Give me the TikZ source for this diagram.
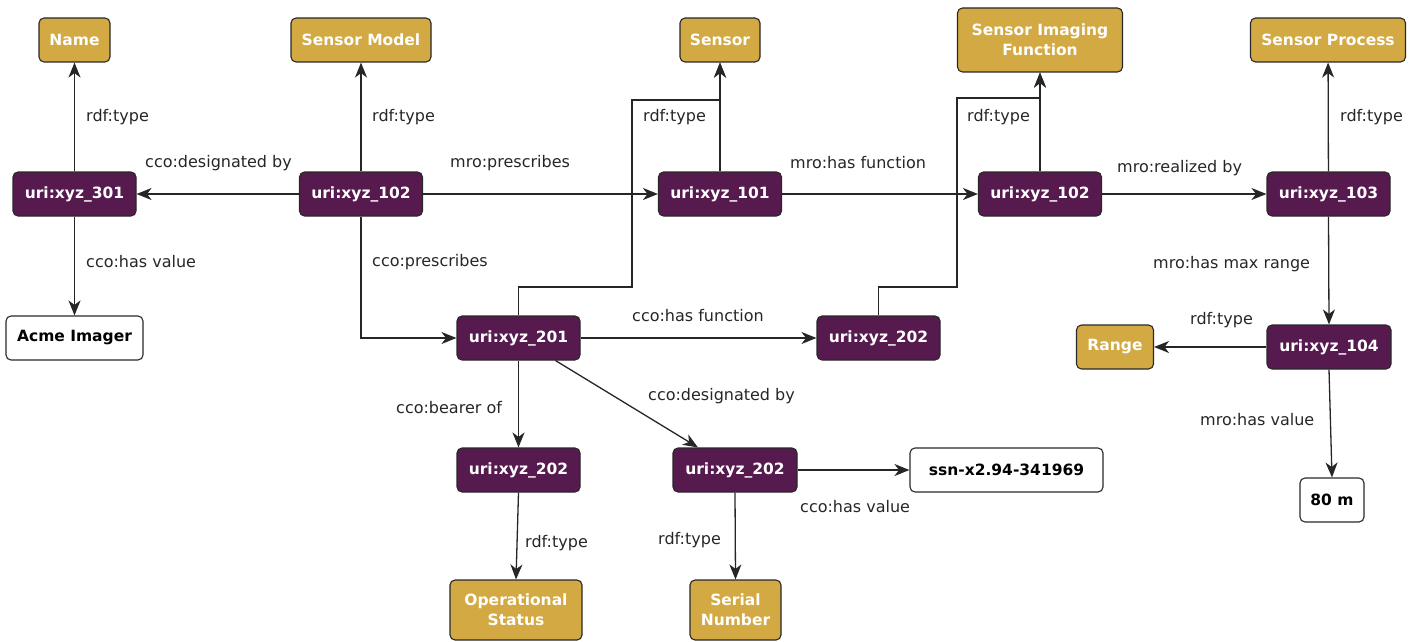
\documentclass[tikz,border=0pt]{standalone}
\usepackage{fontspec}
\setmainfont{DejaVu Sans}
\usetikzlibrary{arrows.meta}
\definecolor{clsgold}{RGB}{210,169,66}
\definecolor{instpurple}{RGB}{86,26,79}
\definecolor{edgegray}{RGB}{40,40,40}
\tikzset{
  box/.style={draw=edgegray, line width=1.1pt, rounded corners=5pt, inner sep=0pt,
    font=\bfseries\fontsize{15.5}{20}\selectfont, align=center},
  cls/.style={box, fill=clsgold, text=white},
  inst/.style={box, fill=instpurple, text=white},
  lit/.style={box, fill=white, text=black},
  lbl/.style={anchor=west, inner sep=0pt, text=black!85, font=\fontsize{16}{18}\selectfont},
  link/.style={line width=1.3pt, draw=black!85, -{Stealth[length=15pt,width=12pt,inset=4.5pt]}}
}
\begin{document}
\begin{tikzpicture}[x=1pt,y=-1pt]
\useasboundingbox (0,0) rectangle (1422,642);
% class nodes
\node[cls, minimum width=71pt,  minimum height=44pt] (name)   at (74.5,40)  {Name};
\node[cls, minimum width=140pt, minimum height=44pt] (smodel) at (361,40)   {Sensor Model};
\node[cls, minimum width=80pt,  minimum height=44pt] (sensor) at (720,40)   {Sensor};
\node[cls, minimum width=165pt, minimum height=64pt] (sif)    at (1040,40)  {Sensor Imaging\\Function};
\node[cls, minimum width=155pt, minimum height=44pt] (sproc)  at (1328,40)  {Sensor Process};
\node[cls, minimum width=77pt,  minimum height=44pt] (range)  at (1115,347) {Range};
\node[cls, minimum width=132pt, minimum height=60pt] (opstat) at (516,610)  {Operational\\Status};
\node[cls, minimum width=91pt,  minimum height=60pt] (serial) at (735.5,610){Serial\\Number};
% instance nodes
\node[inst, minimum width=123pt, minimum height=44pt] (i301)  at (74.5,194)  {uri:xyz\_301};
\node[inst, minimum width=123pt, minimum height=44pt] (i102a) at (361,194)   {uri:xyz\_102};
\node[inst, minimum width=123pt, minimum height=44pt] (i101)  at (720,194)   {uri:xyz\_101};
\node[inst, minimum width=123pt, minimum height=44pt] (i102b) at (1040,194)  {uri:xyz\_102};
\node[inst, minimum width=123pt, minimum height=44pt] (i103)  at (1328.5,194){uri:xyz\_103};
\node[inst, minimum width=123pt, minimum height=44pt] (i201)  at (518.5,338) {uri:xyz\_201};
\node[inst, minimum width=123pt, minimum height=44pt] (i202a) at (878.5,338) {uri:xyz\_202};
\node[inst, minimum width=124pt, minimum height=44pt] (i104)  at (1329,347)  {uri:xyz\_104};
\node[inst, minimum width=123pt, minimum height=44pt] (i202b) at (518.5,470) {uri:xyz\_202};
\node[inst, minimum width=124pt, minimum height=44pt] (i202c) at (735,470)   {uri:xyz\_202};
% literal nodes
\node[lit, minimum width=137pt, minimum height=44pt] (acme) at (74.5,338)  {Acme Imager};
\node[lit, minimum width=193pt, minimum height=44pt] (ssn)  at (1006.5,470){ssn-x2.94-341969};
\node[lit, minimum width=64pt,  minimum height=44pt] (m80)  at (1332,500)  {80 m};
% bend points of the orthogonal links
\coordinate (j1) at (632,287);
\coordinate (j2) at (720,100);
\coordinate (k1) at (957,287);
\coordinate (k2) at (1040,98);
\coordinate (p1) at (361,338);
% links
\draw[link] (i301) -- (name);
\draw[link] (i102a) -- (smodel);
\draw[link] (i102a) -- (i301);
\draw[link] (i102a) -- (i101);
\draw[link] (i102a.south) -- (p1) -- (i201.west);
\draw[link] (i301) -- (acme);
\draw[link] (i101) -- (sensor);
\draw[link] (i201.north) |- (j1) |- (j2) -- (sensor.south);
\draw[link] (i101) -- (i102b);
\draw[link] (i102b) -- (sif);
\draw[link] (i202a.north) |- (k1) |- (k2) -- (sif.south);
\draw[link] (i102b) -- (i103);
\draw[link] (i103) -- (sproc);
\draw[link] (i103.south) -- (i104.north);
\draw[link] (i104) -- (range);
\draw[link] (i104.south) -- (m80.north);
\draw[link] (i201) -- (i202a);
\draw[link] (i201.south) -- (i202b.north);
\draw[link] ([xshift=37pt]i201.south) -- ([xshift=-37pt]i202c.north);
\draw[link] (i202c) -- (ssn);
\draw[link] (i202b.south) -- (opstat.north);
\draw[link] (i202c.south) -- (serial.north);
% link labels
\node[lbl] (l1)  at (86,117)   {rdf:type};
\node[lbl] (l2)  at (372,117)  {rdf:type};
\node[lbl] (l3)  at (145,163)  {cco:designated by};
\node[lbl] (l4)  at (450,163)  {mro:prescribes};
\node[lbl] (l5)  at (643,117)  {rdf:type};
\node[lbl] (l6)  at (790,163)  {mro:has function};
\node[lbl] (l7)  at (967,117)  {rdf:type};
\node[lbl] (l8)  at (1117,168) {mro:realized by};
\node[lbl] (l9)  at (1340,117) {rdf:type};
\node[lbl] (l10) at (86,262)   {cco:has value};
\node[lbl] (l11) at (372,262)  {cco:prescribes};
\node[lbl] (l12) at (1153,264) {mro:has max range};
\node[lbl] (l13) at (1190,320) {rdf:type};
\node[lbl] (l14) at (632,316)  {cco:has function};
\node[lbl] (l15) at (396,408)  {cco:bearer of};
\node[lbl] (l16) at (648,396)  {cco:designated by};
\node[lbl] (l17) at (1200,420) {mro:has value};
\node[lbl] (l18) at (800,507)  {cco:has value};
\node[lbl] (l19) at (525,543)  {rdf:type};
\node[lbl] (l20) at (658,540)  {rdf:type};
\end{tikzpicture}
\end{document}
